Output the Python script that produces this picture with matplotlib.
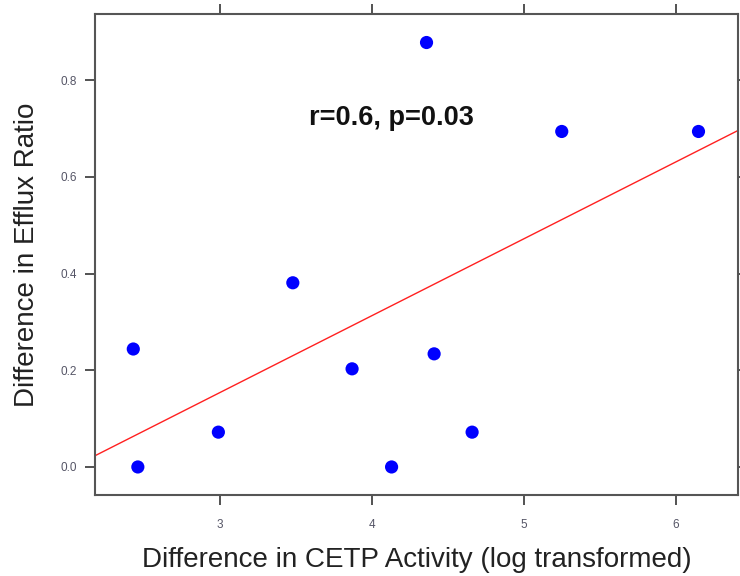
import matplotlib
matplotlib.use("Agg")
import matplotlib.pyplot as plt
import numpy as np

plt.rcParams['font.family'] = ['Liberation Sans', 'DejaVu Sans']

cetp_diff = [2.43, 2.46, 2.99, 3.48, 3.87, 4.13, 4.41, 4.66, 4.36, 5.25, 6.15]
efflux_diff = [0.244, 0.0, 0.072, 0.381, 0.203, 0.0, 0.234, 0.072, 0.878, 0.694, 0.694]
x_ticks = [3, 4, 5, 6]
y_ticks = [0.0, 0.2, 0.4, 0.6, 0.8]
annotation = "r=0.6, p=0.03"

fig = plt.figure(figsize=(7.4, 5.76), dpi=100)
ax = fig.add_axes([95/740, 1 - 495/576, (738-95)/740, (495-14)/576])

xlim = (2.178, 6.41)
ylim = (-0.058, 0.937)

slope, intercept = np.polyfit(cetp_diff, efflux_diff, 1)
xs = np.array(xlim)
ax.plot(xs, slope * xs + intercept, color='#ff2020', lw=1.0, zorder=2)
ax.scatter(cetp_diff, efflux_diff, s=90, color='#0000ff', edgecolors='none', zorder=3)

ax.set_xlim(*xlim)
ax.set_ylim(*ylim)
ax.set_xticks(x_ticks)
ax.set_yticks(y_ticks)
ax.set_xticklabels([str(t) for t in x_ticks])
ax.set_yticklabels([f"{t:.1f}" for t in y_ticks])
ax.tick_params(direction='out', length=7, width=1.3, color='#444444',
               labelsize=8.5, labelcolor='#555566',
               top=True, right=True, labeltop=False, labelright=False, pad=6)
ax.tick_params(axis='x', pad=10)
for sp in ax.spines.values():
    sp.set_color('#555555')
    sp.set_linewidth(1.5)

ax.set_xlabel("Difference in CETP Activity (log transformed)", fontsize=20, color='#222222', labelpad=12)
ax.set_ylabel("Difference in Efflux Ratio", fontsize=20, color='#222222', labelpad=15)

ax.text(4.13, 0.722, annotation,
        fontsize=19.5, fontweight='bold', ha='center', va='center', color='#111111')

fig.savefig("out.png", dpi=100)
